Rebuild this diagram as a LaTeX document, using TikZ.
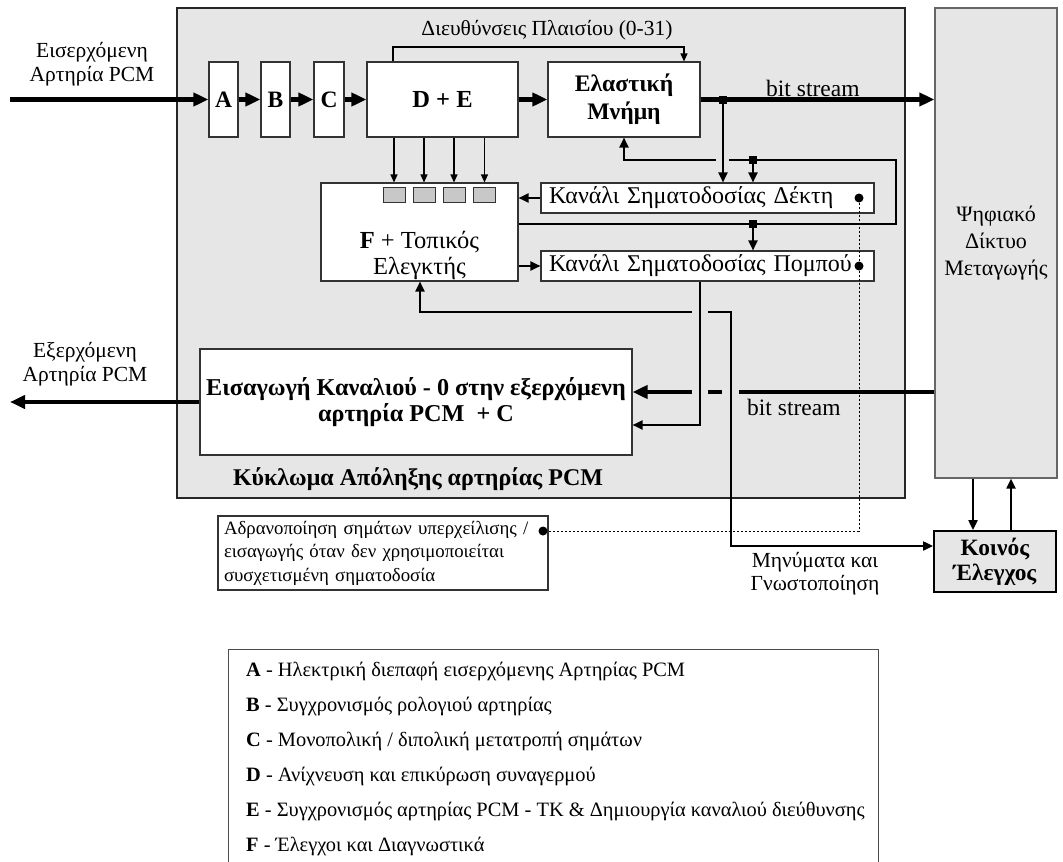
\documentclass[tikz,border=0pt]{standalone}
\usepackage{fontspec}
\setmainfont{Liberation Serif}
\usetikzlibrary{arrows.meta}
\definecolor{bgfill}{RGB}{230,230,230}
\definecolor{sqfill}{RGB}{200,200,200}
\tikzset{
  every node/.style={font=\fontsize{23.5}{27}\selectfont},
  bigbox/.style={draw=black!85, fill=bgfill, line width=1.5pt, inner sep=0pt},
  box/.style={draw=black!80, fill=white, line width=1.1pt, inner sep=0pt, align=center},
  sq/.style={draw=black!80, fill=sqfill, line width=1pt, minimum width=22pt, minimum height=15pt, inner sep=0pt},
  junc/.style={fill=black, minimum size=8pt, inner sep=0pt},
  dot/.style={circle, fill=black, minimum size=9pt, inner sep=0pt},
  thickarr/.style={line width=4.5pt, -{Triangle[length=15pt,width=13pt]}},
  medarr/.style={line width=2pt, -{Triangle[length=10pt,width=9pt]}},
  medline/.style={line width=2pt},
  thinarr/.style={line width=1.2pt, -{Triangle[length=8pt,width=7pt]}},
  dotline/.style={line width=1pt, dash pattern=on 2pt off 2pt},
  patch/.style={draw=bgfill, line width=7pt},
  lbl/.style={inner sep=0pt, align=center}
}
\begin{document}
\begin{tikzpicture}[x=1pt,y=-1pt]
\useasboundingbox (0,0) rectangle (1063,862);
% big boxes
\node[bigbox, minimum width=728pt, minimum height=490pt] (main) at (541,253) {};
\node[bigbox, draw=black!60, line width=1.2pt, minimum width=122pt, minimum height=470pt, align=center, font=\fontsize{22}{27}\selectfont] (net) at (996,243) {Ψηφιακό\\Δίκτυο\\Μεταγωγής};
% top chain
\node[box, minimum width=29pt, minimum height=75pt] (A) at (223.5,99.5) {\textbf{A}};
\node[box, minimum width=29pt, minimum height=75pt] (B) at (275.5,99.5) {\textbf{B}};
\node[box, minimum width=30pt, minimum height=75pt] (C) at (329,99.5) {\textbf{C}};
\node[box, minimum width=151pt, minimum height=75pt, font=\fontsize{24.5}{28}\selectfont] (DE) at (442.5,99.5) {\textbf{D + E}};
\node[box, minimum width=152pt, minimum height=75pt, font=\fontsize{23.7}{28}\selectfont] (EM) at (624,99.5) {\textbf{Ελαστική}\\\textbf{Μνήμη}};
% F box
\node[box, minimum width=197pt, minimum height=98pt] (F) at (419.5,232) {};
\node[lbl, font=\fontsize{24.5}{26}\selectfont] (Ft) at (419.5,255) {\textbf{F} + Τοπικός\\Ελεγκτής};
\node[sq] (s1) at (394,194.5) {};
\node[sq] (s2) at (424,194.5) {};
\node[sq] (s3) at (454,194.5) {};
\node[sq] (s4) at (484.5,194.5) {};
% channels
\node[box, minimum width=333pt, minimum height=30pt, text width=317pt, inner xsep=8pt, align=left, font=\fontsize{24}{27}\selectfont] (RX) at (707.5,198) {Κανάλι Σηματοδοσίας Δέκτη};
\node[box, minimum width=333pt, minimum height=30pt, text width=317pt, inner xsep=8pt, align=left, font=\fontsize{24}{27}\selectfont] (TX) at (707.5,266) {Κανάλι Σηματοδοσίας Πομπού};
\node[dot] (d1) at (859,198) {};
\node[dot] (d2) at (859,266) {};
% insert box
\node[box, minimum width=432pt, minimum height=106pt, font=\fontsize{24.2}{26}\selectfont] (INS) at (416,402) {\textbf{Εισαγωγή Καναλιού - 0 στην εξερχόμενη}\\\textbf{αρτηρία PCM\ \ + C}};
\node[lbl, font=\fontsize{24}{27}\selectfont] (title) at (418,479) {\textbf{Κύκλωμα Απόληξης αρτηρίας PCM}};
% common control
\node[box, fill=bgfill, draw=black, line width=1.8pt, minimum width=122pt, minimum height=61pt, font=\fontsize{23.4}{25}\selectfont] (KE) at (995,561.5) {\textbf{Κοινός}\\\textbf{Έλεγχος}};
% note box
\node[box, minimum width=330pt, minimum height=74pt, text width=318pt, inner xsep=6pt, align=left, font=\fontsize{18.8}{23.5}\selectfont] (NOTE) at (383,553) {Αδρανοποίηση σημάτων υπερχείλισης /\\εισαγωγής όταν δεν χρησιμοποιείται\\συσχετισμένη σηματοδοσία};
\node[dot] (d3) at (543,531) {};
% labels
\node[lbl, font=\fontsize{21.5}{24}\selectfont] (inlbl) at (92,64) {Εισερχόμενη\\Αρτηρία PCM};
\node[lbl, font=\fontsize{21.5}{24}\selectfont] (outlbl) at (85,364) {Εξερχόμενη\\Αρτηρία PCM};
\node[lbl, font=\fontsize{21.5}{24}\selectfont] (addr) at (547,30) {Διευθύνσεις Πλαισίου (0-31)};
\node[lbl, anchor=west] (bs1) at (766,88) {bit stream};
\node[lbl, anchor=west] (bs2) at (747,407) {bit stream};
\node[lbl, font=\fontsize{21.5}{23}\selectfont] (msg) at (815,574) {Μηνύματα και\\Γνωστοποίηση};
% junctions and corners
\node[junc] (j1) at (723,99.5) {};
\node[junc] (j2) at (753,160) {};
\node[junc] (j3) at (753,224) {};
\coordinate (inL) at (10,99.5);
\coordinate (outL) at (10,402);
\coordinate (lpA) at (896,224);
\coordinate (lpB) at (896,160);
\coordinate (lpC) at (624,160);
\coordinate (adA) at (393,47);
\coordinate (adB) at (684,47);
\coordinate (txA) at (700,425);
\coordinate (fkA) at (420,312);
\coordinate (fkB) at (731,312);
\coordinate (fkC) at (731,546);
% top chain arrows
\draw[thickarr] (inL) -- (A.west);
\draw[thickarr] (A) -- (B);
\draw[thickarr] (B) -- (C);
\draw[thickarr] (C) -- (DE);
\draw[thickarr] (DE) -- (EM);
\draw[thickarr] (EM.east) -- (net.west |- EM.east);
% address line
\draw[thinarr] (DE.north -| adA) -- (adA) -- (adB) -- (EM.north -| adB);
% DE to squares
\foreach \x in {394,424,454,484.5}{
  \draw[thinarr] (DE.south -| \x,0) -- (F.north -| \x,0);
}
% loop
\draw[medarr] (F.east |- j3) -- (lpA) -- (lpB) -- (lpC) -- (EM.south);
\draw[patch, line width=5pt] (716,160) -- (729,160);
\draw[medarr] (j1) -- (j1 |- RX.north);
\draw[medarr] (j2) -- (j2 |- RX.north);
\draw[medarr] (j3) -- (j3 |- TX.north);
\node[junc] at (j1) {};
\node[junc] at (j2) {};
\node[junc] at (j3) {};
% RX -> F, F -> TX
\draw[medarr] (RX.west) -- (F.east |- RX.west);
\draw[medarr] (F.east |- TX.west) -- (TX.west);
% bottom bit stream
\draw[thickarr] (net.west |- 0,392) -- (INS.east |- 0,392);
\draw[patch] (722,392) -- (739,392);
% F <-> Koinos
\draw[medline, {Triangle[length=10pt,width=9pt]}-{Triangle[length=10pt,width=9pt]}] (F.south -| fkA) -- (fkA) -- (fkB) -- (fkC) -- (KE.west |- fkC);
\draw[patch] (692,392) -- (708,392);
\draw[patch, line width=5pt] (692,312) -- (708,312);
% TX -> INS
\draw[medarr] (TX.south -| txA) -- (txA) -- (INS.east |- txA);
% outgoing
\draw[thickarr] (INS.west) -- (outL);
% net <-> Koinos
\draw[medarr] (net.south -| 973,0) -- (KE.north -| 973,0);
\draw[medarr] (KE.north -| 1011,0) -- (net.south -| 1011,0);
% dotted
\draw[dotline] (d1) -- (d2) -- (d2 |- d3) -- (d3);
% legend
\draw[line width=1pt, draw=black!70] (228,870) -- (228,649) -- (878,649) -- (878,870);
\begin{scope}[every node/.style={anchor=west, inner sep=0pt, font=\fontsize{20.4}{24}\selectfont}]
\node (LA) at (246,671) {\textbf{A} - Ηλεκτρική διεπαφή εισερχόμενης Αρτηρίας PCM};
\node (LB) at (246,706) {\textbf{B} - Συγχρονισμός ρολογιού αρτηρίας};
\node (LC) at (246,741) {\textbf{C} - Μονοπολική / διπολική μετατροπή σημάτων};
\node (LD) at (246,776) {\textbf{D} - Ανίχνευση και επικύρωση συναγερμού};
\node (LE) at (246,811) {\textbf{E} - Συγχρονισμός αρτηρίας PCM - TK \& Δημιουργία καναλιού διεύθυνσης};
\node (LF) at (246,846) {\textbf{F} - Έλεγχοι και Διαγνωστικά};
\end{scope}
\end{tikzpicture}
\end{document}
